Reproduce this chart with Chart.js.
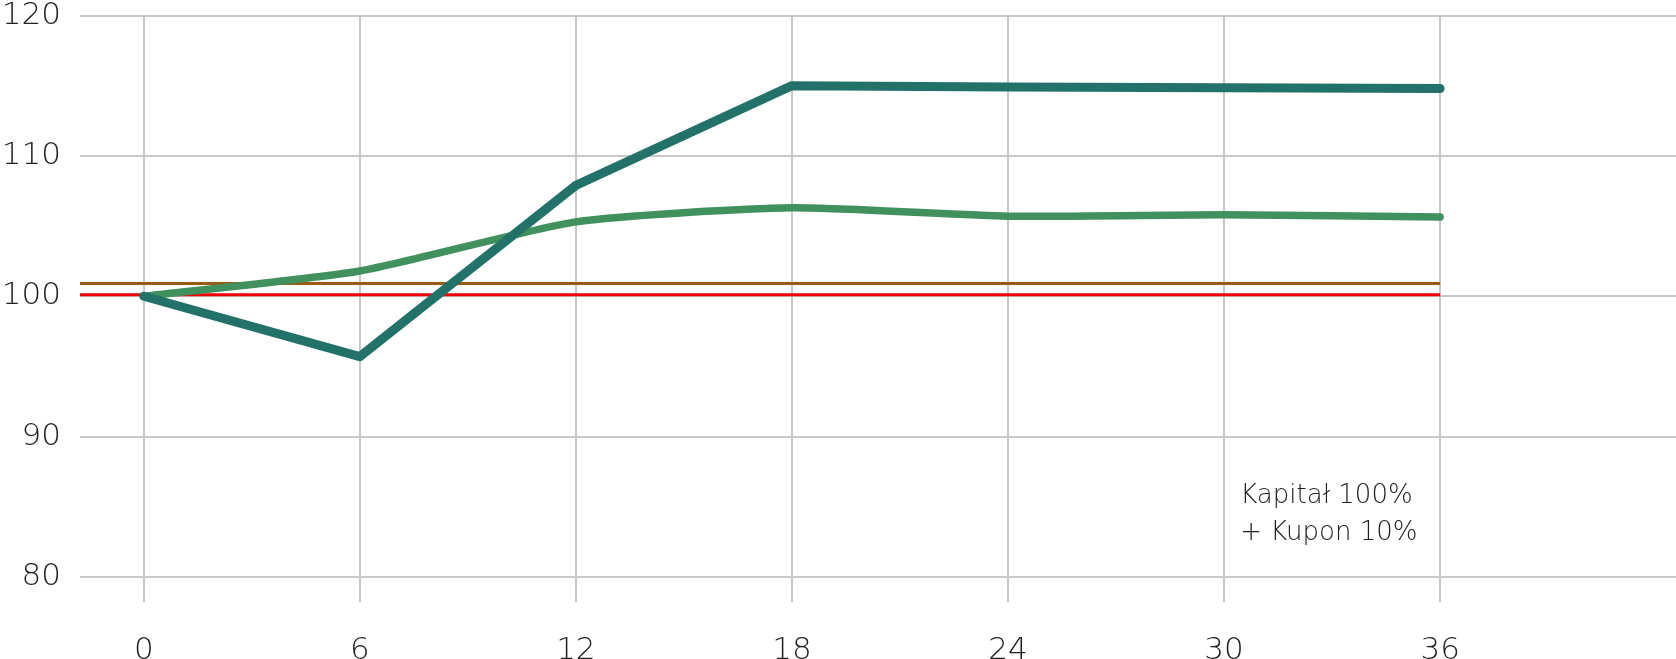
<!DOCTYPE html>
<html>
<head>
<meta charset="utf-8">
<script src="https://cdn.jsdelivr.net/npm/chart.js@4/dist/chart.umd.min.js"></script>
<style>
  html, body { margin: 0; padding: 0; background: #fff; }
  #wrap { width: 1676px; height: 659px; }
</style>
</head>
<body>
<div id="wrap"><canvas id="myChart" width="1676" height="659"></canvas></div>
<script>
// months on the x axis
const months = [0, 6, 12, 18, 24, 30, 36]
const xTicks = [0, 6, 12, 18, 24, 30, 36]
const yTicks = [80, 90, 100, 110, 120]

// series values
const fundA = [100, 95.7, 107.9, 115, 114.9, 114.85, 114.8]
const fundB = [100, 101.8, 105.3, 106.3, 105.7, 105.8, 105.65]

// flat reference levels
const levelCoupon = 100.9
const levelCapital = 100.1

const noteLines = ['Kapitał 100%', '+ Kupon 10%']

const xMin = -1.77
const xMax = 42.55

const labelFont = { family: '"DejaVu Sans", sans-serif', size: 31, weight: '200', lineHeight: 1.0 }

function toPoints(xs, ys) {
    return xs.map((x, i) => ({ x: x, y: ys[i] }))
}

const noteText = {
    id: 'noteText',
    afterDatasetsDraw(chart) {
        const ctx = chart.ctx
        const xs = chart.scales.x
        const ys = chart.scales.y
        ctx.save()
        ctx.font = '200 26px "DejaVu Sans", sans-serif'
        ctx.fillStyle = '#222'
        ctx.textAlign = 'left'
        ctx.textBaseline = 'alphabetic'
        const left = xs.getPixelForValue(30.45)
        ctx.fillText(noteLines[0], left, ys.getPixelForValue(85.3))
        ctx.fillText(noteLines[1], left, ys.getPixelForValue(82.65))
        ctx.restore()
    }
}

const data = {
    datasets: [
        {
            label: 'A',
            data: toPoints(months, fundA),
            borderColor: '#22726a',
            borderWidth: 9,
            tension: 0,
            borderCapStyle: 'round',
            borderJoinStyle: 'round',
            pointRadius: 0
        },
        {
            label: 'B',
            data: toPoints(months, fundB),
            borderColor: '#41915f',
            borderWidth: 7.5,
            tension: 0.2,
            borderCapStyle: 'round',
            borderJoinStyle: 'round',
            pointRadius: 0
        },
        {
            label: 'Kupon',
            data: [{ x: xMin, y: levelCoupon }, { x: 36, y: levelCoupon }],
            borderColor: '#9b5a0f',
            borderWidth: 3,
            pointRadius: 0
        },
        {
            label: 'Kapitał',
            data: [{ x: xMin, y: levelCapital }, { x: 36, y: levelCapital }],
            borderColor: '#ee0000',
            borderWidth: 3,
            pointRadius: 0
        }
    ]
}

const config = {
    type: 'line',
    data: data,
    plugins: [noteText],
    options: {
        responsive: false,
        animation: false,
        layout: { padding: 0 },
        plugins: {
            legend: { display: false },
            tooltip: { enabled: false }
        },
        scales: {
            x: {
                type: 'linear',
                min: xMin,
                max: xMax,
                afterBuildTicks: axis => { axis.ticks = xTicks.map(v => ({ value: v })) },
                afterFit: axis => { axis.height = 82 },
                border: { display: false },
                grid: { color: '#c8c8c8', lineWidth: 2, tickLength: 25, drawTicks: true },
                ticks: {
                    padding: 33,
                    maxRotation: 0,
                    color: '#222',
                    font: labelFont
                }
            },
            y: {
                min: 80,
                max: 120,
                afterBuildTicks: axis => { axis.ticks = yTicks.map(v => ({ value: v })) },
                afterFit: axis => { axis.width = 80 },
                border: { display: false },
                grid: { color: '#c8c8c8', lineWidth: 2, drawTicks: true, tickLength: 19, tickColor: 'rgba(0,0,0,0)' },
                ticks: {
                    padding: 0,
                    color: '#222',
                    font: labelFont
                }
            }
        }
    }
}

const myChart = new Chart(document.getElementById('myChart'), config)
</script>
</body>
</html>
